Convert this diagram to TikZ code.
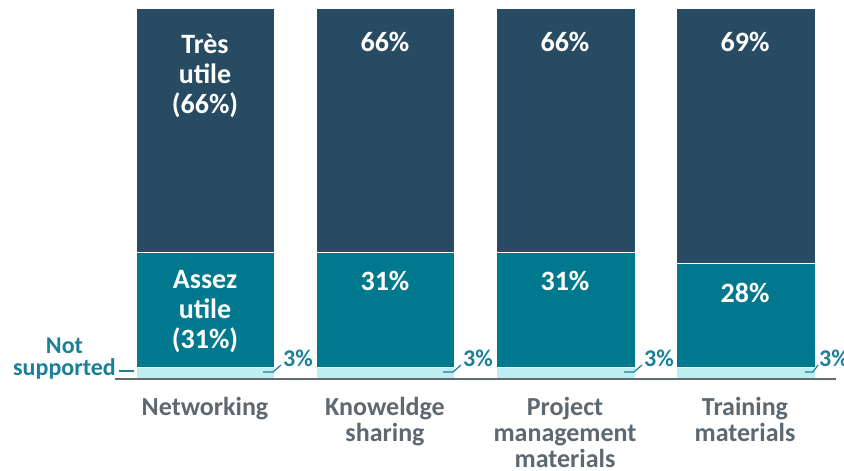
\documentclass[tikz,border=0pt]{standalone}
\usepackage{fontspec}
\setmainfont{Carlito}
\usetikzlibrary{positioning}
\definecolor{tresutile}{HTML}{264B63}
\definecolor{assezutile}{HTML}{00798F}
\definecolor{notsupp}{HTML}{BFEEF0}
\definecolor{labelteal}{HTML}{1B7F97}
\definecolor{catgrey}{HTML}{5D6871}
\definecolor{axisgrey}{HTML}{5F6A72}
\tikzset{
    seg/.style={draw=white, line width=0.5pt},
    seglabel/.style={text=white, font=\bfseries\fontsize{28}{30}\selectfont, align=center, anchor=base, inner sep=0pt},
    catlabel/.style={text=catgrey, font=\bfseries\fontsize{26}{26}\selectfont, align=center, anchor=base, inner sep=0pt},
    smalllabel/.style={text=labelteal, font=\bfseries\fontsize{24}{22}\selectfont, align=center, inner sep=0pt},
    leader/.style={labelteal, line width=1.2pt}
}

\begin{document}
\begin{tikzpicture}[x=1pt, y=-1pt]
                        \useasboundingbox (0,0) rectangle (844,471);

                        % stacked bars
                        \filldraw[seg, fill=tresutile] (136,8) rectangle (274,252);
                        \filldraw[seg, fill=assezutile] (136,252) rectangle (274,367);
                        \filldraw[seg, fill=notsupp] (136,367) rectangle (274,378);
                        \filldraw[seg, fill=tresutile] (316,8) rectangle (454,252);
                        \filldraw[seg, fill=assezutile] (316,252) rectangle (454,367);
                        \filldraw[seg, fill=notsupp] (316,367) rectangle (454,378);
                        \filldraw[seg, fill=tresutile] (496,8) rectangle (635,252);
                        \filldraw[seg, fill=assezutile] (496,252) rectangle (635,367);
                        \filldraw[seg, fill=notsupp] (496,367) rectangle (635,378);
                        \filldraw[seg, fill=tresutile] (676,8) rectangle (815,263);
                        \filldraw[seg, fill=assezutile] (676,263) rectangle (815,367);
                        \filldraw[seg, fill=notsupp] (676,367) rectangle (815,378);

                        \coordinate (axl) at (115,379);
                        \coordinate (axr) at (836,379);
                        \draw[axisgrey, line width=2pt] (axl) -- (axr);

                        % segment labels (base = last line)
                        \node[seglabel] (tres1) at (205,113) {Très\\utile\\(66\%)};
                        \node[seglabel] (tres2) at (385,51) {66\%};
                        \node[seglabel] (tres3) at (565,51) {66\%};
                        \node[seglabel] (tres4) at (745,51) {69\%};
                        \node[seglabel] (assez1) at (205,348) {Assez\\utile\\(31\%)};
                        \node[seglabel] (assez2) at (385,290) {31\%};
                        \node[seglabel] (assez3) at (565,290) {31\%};
                        \node[seglabel] (assez4) at (745,302) {28\%};

                        % categories
                        \node[catlabel] (net) at (205,415) {Networking};
                        \node[catlabel] (know) at (385,441) {Knoweldge\\sharing};
                        \node[catlabel] (proj) at (565,467) {Project\\management\\materials};
                        \node[catlabel] (train) at (745,441) {Training\\materials};

                        % not supported
                        \node[smalllabel, anchor=base east] (notsup) at (116,375) {Not\\supported};
                        \coordinate (nsl) at (119,371);
                        \coordinate (nsr) at (134,371);
                        \draw[leader] (nsl) -- (nsr);

                        \node[smalllabel, anchor=base west] (ns1) at (283,366) {3\%};
                        \node[smalllabel, anchor=base west] (ns2) at (463,366) {3\%};
                        \node[smalllabel, anchor=base west] (ns3) at (644,366) {3\%};
                        \node[smalllabel, anchor=base west] (ns4) at (819,366) {3\%};
                        \coordinate (l1) at (263,372);
                        \coordinate (l2) at (443,372);
                        \coordinate (l3) at (624,372);
                        \coordinate (l4) at (805,372);
                        \draw[leader] (l1) -- ++(10,0) -- ([xshift=-2pt,yshift=1pt]ns1.base west);
                        \draw[leader] (l2) -- ++(10,0) -- ([xshift=-2pt,yshift=1pt]ns2.base west);
                        \draw[leader] (l3) -- ++(10,0) -- ([xshift=-2pt,yshift=1pt]ns3.base west);
                        \draw[leader] (l4) -- ++(8,0) -- ([xshift=-1pt,yshift=1pt]ns4.base west);
                    \end{tikzpicture}
\end{document}
